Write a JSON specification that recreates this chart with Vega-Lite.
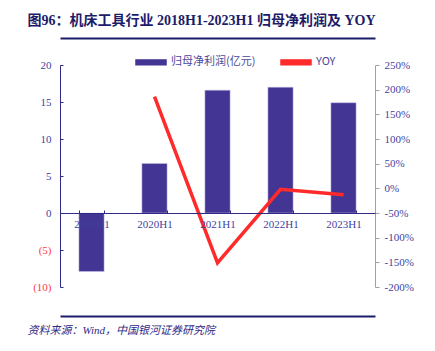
{
  "$schema": "https://vega.github.io/schema/vega-lite/v6.json",
  "width": 315,
  "height": 222,
  "autosize": {"type": "none"},
  "padding": {"left": 60, "top": 65, "right": 60, "bottom": 64},
  "background": "white",
  "config": {
    "view": {"stroke": null},
    "axis": {"grid": false, "labelFont": "Liberation Serif, Noto Sans CJK SC", "labelFontSize": 11},
    "axisBottom": {"zindex": 2}
  },
  "datasets": {
    "bars": [
      {"period": "2019H1", "value": -7.9, "series": "归母净利润(亿元)"},
      {"period": "2020H1", "value": 6.7, "series": "归母净利润(亿元)"},
      {"period": "2021H1", "value": 16.6, "series": "归母净利润(亿元)"},
      {"period": "2022H1", "value": 17.0, "series": "归母净利润(亿元)"},
      {"period": "2023H1", "value": 14.9, "series": "归母净利润(亿元)"}
    ],
    "yoy": [
      {"period": "2020H1", "value": 186, "series": "YOY"},
      {"period": "2021H1", "value": -151, "series": "YOY"},
      {"period": "2022H1", "value": -2, "series": "YOY"},
      {"period": "2023H1", "value": -13, "series": "YOY"}
    ]
  },
  "layer": [
    {
      "data": {"name": "bars"},
      "mark": {"type": "bar", "stroke": "#C8C4E8", "strokeWidth": 0.5},
      "encoding": {
        "x": {
          "field": "period", "type": "nominal", "sort": null,
          "scale": {"paddingInner": 0.6, "paddingOuter": 0.3},
          "axis": {
            "orient": "bottom", "offset": -74, "title": null, "labelAngle": 0,
            "domainColor": "#2E2A85", "domainWidth": 1.2,
            "tickBand": "extent", "tickSize": -3, "tickColor": "#2E2A85",
            "labelPadding": 8, "labelColor": "#3F3F9F", "zindex": 2
          }
        },
        "y": {
          "field": "value", "type": "quantitative",
          "scale": {"domain": [-10, 20], "nice": false},
          "axis": {
            "title": null, "values": [-10, -5, 0, 5, 10, 15, 20],
            "domainColor": "#2E2A85", "tickColor": "#2E2A85", "tickSize": -3,
            "labelPadding": 12,
            "labelExpr": "datum.value < 0 ? '(' + (-datum.value) + ')' : datum.label",
            "labelColor": {"condition": {"test": "datum.value < 0", "value": "#FF3B3B"}, "value": "#3F3F9F"}
          }
        },
        "color": {
          "field": "series", "type": "nominal",
          "scale": {"domain": ["归母净利润(亿元)", "YOY"], "range": ["#433594", "#FF2A2A"]},
          "legend": {
            "title": null, "orient": "none", "direction": "horizontal",
            "legendX": 75, "legendY": -19,
            "symbolType": "M-1,-0.16H1V0.16H-1Z", "symbolSize": 900,
            "labelFont": "Noto Sans CJK SC", "labelFontSize": 11, "labelColor": "#4A4A9A",
            "columnPadding": 22,
            "encode": {"symbols": {"update": {"fill": {"scale": "color", "field": "value"}, "stroke": {"value": "transparent"}}}}
          }
        }
      }
    },
    {
      "data": {"name": "yoy"},
      "mark": {"type": "line", "strokeWidth": 3.5},
      "encoding": {
        "x": {
          "field": "period", "type": "nominal", "sort": null,
          "axis": {"orient": "top", "offset": 27, "title": "图96：机床工具行业 2018H1-2023H1 归母净利润及 YOY",
                   "labels": false, "ticks": false,
                   "domainColor": "#1C1C6B", "domainWidth": 2,
                   "titleX": -33, "titleY": -18, "titleAlign": "left", "titleBaseline": "middle",
                   "titleFont": "Liberation Serif, Noto Sans CJK SC", "titleFontSize": 14,
                   "titleFontWeight": "bold", "titleColor": "#1C1C6B"}
        },
        "y": {
          "field": "value", "type": "quantitative",
          "scale": {"domain": [-200, 250], "nice": false},
          "axis": {
            "orient": "right", "title": null,
            "values": [-200, -150, -100, -50, 0, 50, 100, 150, 200, 250],
            "labelExpr": "datum.value + '%'",
            "domainColor": "#A0A0A0", "tickColor": "#A0A0A0", "tickSize": 4,
            "labelPadding": 5, "labelColor": "#3F3F9F"
          }
        },
        "color": {"field": "series", "type": "nominal"}
      }
    },
    {
      "data": {"name": "bars"},
      "mark": {"type": "bar", "opacity": 0},
      "encoding": {
        "x": {
          "field": "period", "type": "nominal", "sort": null,
          "axis": {
            "orient": "bottom", "offset": 29, "title": "资料来源：Wind，中国银河证券研究院",
            "labels": false, "ticks": false, "domainColor": "#1C1C6B", "domainWidth": 2,
            "titleX": -33, "titleY": 14, "titleAlign": "left", "titleBaseline": "middle",
            "titleFont": "Liberation Serif, Noto Sans CJK SC", "titleFontSize": 11,
            "titleFontWeight": "normal", "titleFontStyle": "italic", "titleColor": "#2E2A85"
          }
        },
        "y": {"field": "value", "type": "quantitative", "scale": {"domain": [-10, 20], "nice": false}, "axis": null}
      }
    }
  ],
  "resolve": {"scale": {"y": "independent"}, "axis": {"x": "independent"}}
}
